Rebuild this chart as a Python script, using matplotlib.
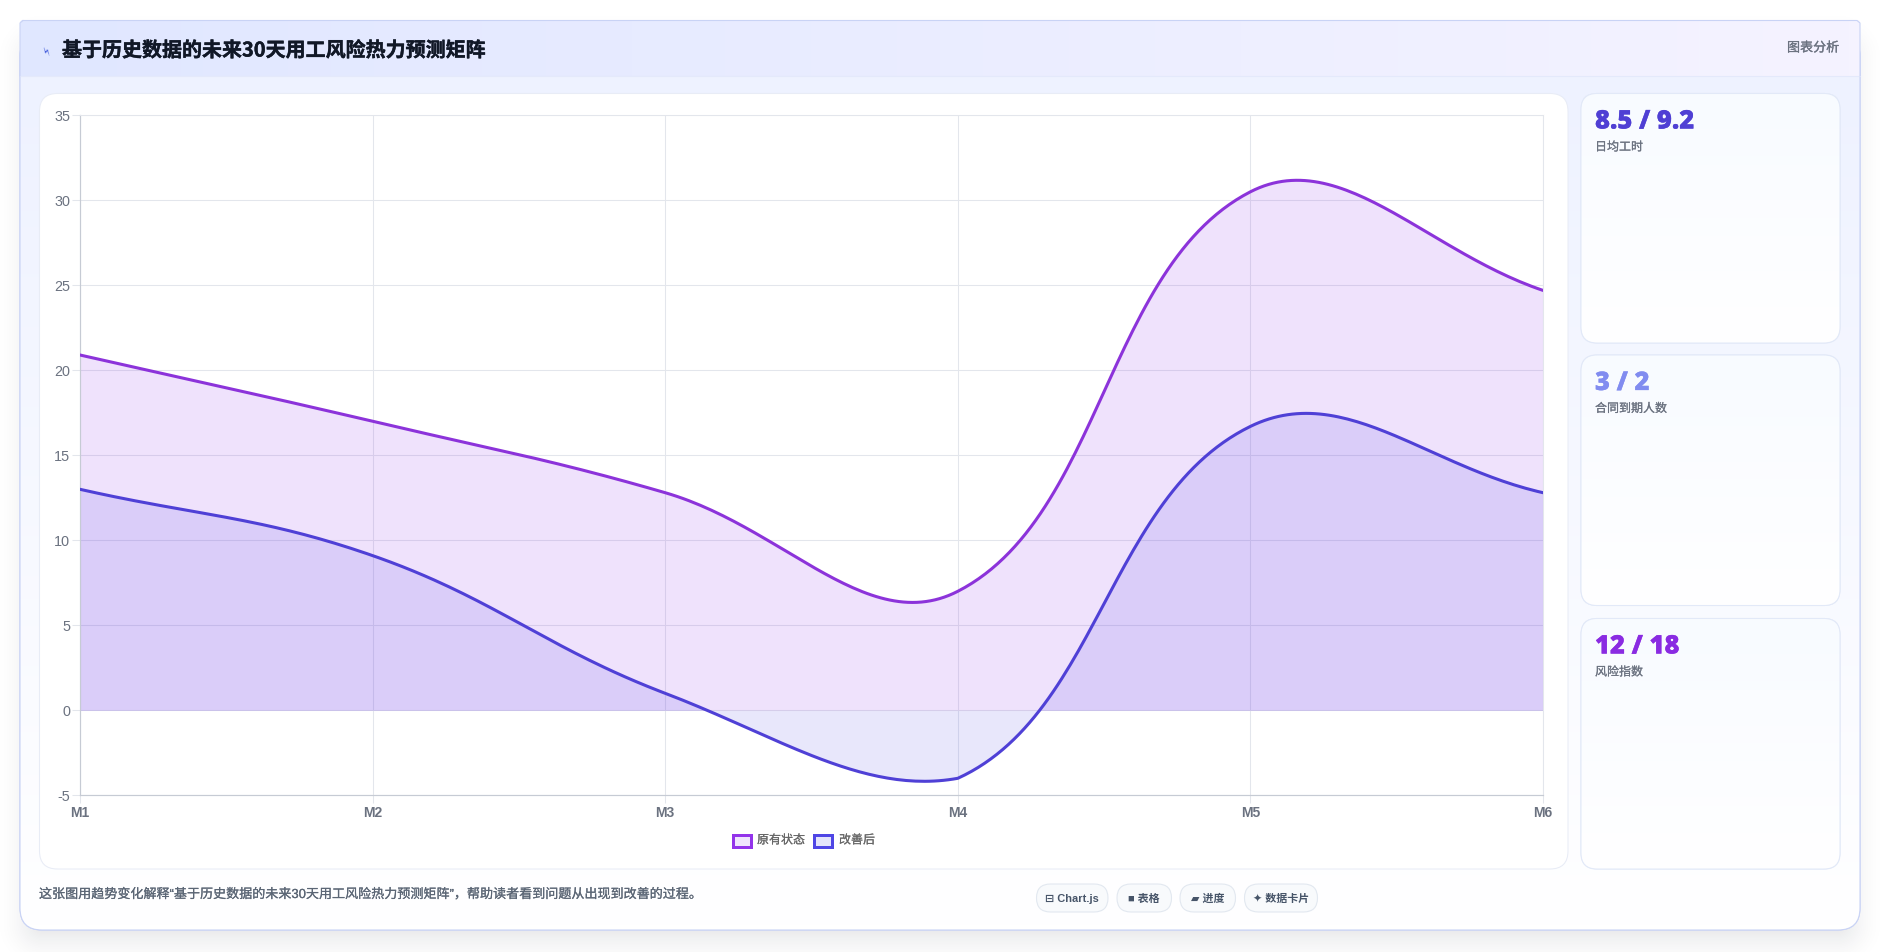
import numpy as np
import matplotlib
matplotlib.use('Agg')
import matplotlib.pyplot as plt
import matplotlib.patheffects as pe
from matplotlib.colors import LinearSegmentedColormap
from matplotlib.patches import FancyBboxPatch, Rectangle

WIDTH, HEIGHT = 1880, 952
CJK = ['Noto Sans CJK SC', 'DejaVu Sans']
MIXED = ['Liberation Sans', 'DejaVu Sans', 'Noto Sans CJK SC']
plt.rcParams['font.family'] = CJK

months = ['M1', 'M2', 'M3', 'M4', 'M5', 'M6']
before = [20.9, 17, 12.8, 7, 30.5, 24.7]
after = [13, 9.1, 1, -4, 16.7, 12.8]
y_ticks = [-5, 0, 5, 10, 15, 20, 25, 30, 35]

legend_labels = ['原有状态', '改善后']
stat_values = ['8.5 / 9.2', '3 / 2', '12 / 18']
stat_names = ['日均工时', '合同到期人数', '风险指数']
stat_colors = ['#4f3fd4', '#818cf0', '#8a2be2']
chip_labels = ['\u229f Chart.js', '\u25a0 表格', '\u25b0 进度', '\u2726 数据卡片']
chip_edges = [(1036.5, 1108), (1117, 1171.5), (1180, 1235.5), (1244.5, 1317.5)]
title = '基于历史数据的未来30天用工风险热力预测矩阵'
note = '这张图用趋势变化解释“基于历史数据的未来30天用工风险热力预测矩阵”，帮助读者看到问题从出现到改善的过程。'

PURPLE = '#9333ea'
INDIGO = '#4f46e5'
PURPLE_LINE = '#8c33da'
INDIGO_LINE = '#4f40d6'

LEFT, RIGHT, TOP, BOTTOM = 80, 1543, 115.3, 795.3
PX_X = (RIGHT - LEFT) / (len(months) - 1)
PX_Y = (BOTTOM - TOP) / (y_ticks[-1] - y_ticks[0])


def thick(width=0.3, color=None):
    # thin outline to bring regular text up to a medium stroke weight
    return [pe.withStroke(linewidth=width, foreground=color)]


def rounded_dist(xx, yy, x0, y0, x1, y1, r):
    # signed distance to a rounded box, negative inside
    cx, cy = (x0 + x1) / 2, (y0 + y1) / 2
    dx = np.abs(xx - cx) - (x1 - x0) / 2 + r
    dy = np.abs(yy - cy) - (y1 - y0) / 2 + r
    return np.hypot(np.maximum(dx, 0), np.maximum(dy, 0)) + np.minimum(np.maximum(dx, dy), 0) - r


def box(ax, x0, y0, x1, y1, r, fc, ec, lw=0.8, z=2):
    patch = FancyBboxPatch((x0 + r, y0 + r), x1 - x0 - 2 * r, y1 - y0 - 2 * r,
                           boxstyle=f'round,pad={r},rounding_size={r}',
                           facecolor=fc, edgecolor=ec, linewidth=lw, zorder=z)
    ax.add_patch(patch)
    return patch


def gradient(ax, extent, c0, c1, clip, horizontal=False, z=2.1):
    cmap = LinearSegmentedColormap.from_list('g', [c0, c1])
    ramp = np.linspace(0, 1, 256)
    data = ramp[None, :] if horizontal else ramp[:, None]
    im = ax.imshow(data, extent=extent, cmap=cmap, aspect='auto', zorder=z, interpolation='bilinear', origin='lower')
    if clip is not None:
        im.set_clip_path(clip)
    ax.set_xlim(0, WIDTH)
    ax.set_ylim(HEIGHT, 0)
    return im


def control(xs, ys, i, tension):
    # Chart.js style control points, capped to the plot area
    prev = max(i - 1, 0)
    nxt = min(i + 1, len(xs) - 1)
    d01 = np.hypot((xs[i] - xs[prev]) * PX_X, (ys[i] - ys[prev]) * PX_Y)
    d12 = np.hypot((xs[nxt] - xs[i]) * PX_X, (ys[nxt] - ys[i]) * PX_Y)
    s01 = d01 / (d01 + d12)
    s12 = d12 / (d01 + d12)
    fa, fb = tension * s01, tension * s12
    dx, dy = xs[nxt] - xs[prev], ys[nxt] - ys[prev]
    lo = np.array([0, y_ticks[0]])
    hi = np.array([xs[-1], y_ticks[-1]])
    cp_in = np.clip([xs[i] - fa * dx, ys[i] - fa * dy], lo, hi)
    cp_out = np.clip([xs[i] + fb * dx, ys[i] + fb * dy], lo, hi)
    return cp_in, cp_out


def spline(values, tension=0.4, steps=60):
    xs = np.arange(len(values), dtype=float)
    ys = np.asarray(values, dtype=float)
    out_x, out_y = [], []
    for i in range(len(xs) - 1):
        cp1 = control(xs, ys, i, tension)[1]
        cp2 = control(xs, ys, i + 1, tension)[0]
        t = np.linspace(0, 1, steps)[:, None]
        p0, p3 = np.array([xs[i], ys[i]]), np.array([xs[i + 1], ys[i + 1]])
        pts = (1 - t) ** 3 * p0 + 3 * (1 - t) ** 2 * t * cp1 + 3 * (1 - t) * t ** 2 * cp2 + t ** 3 * p3
        out_x.append(pts[:, 0])
        out_y.append(pts[:, 1])
    return np.concatenate(out_x), np.concatenate(out_y)


fig = plt.figure(figsize=(WIDTH / 100, HEIGHT / 100), dpi=100, facecolor='white')
bg = fig.add_axes([0, 0, 1, 1])
bg.set_xlim(0, WIDTH)
bg.set_ylim(HEIGHT, 0)
bg.axis('off')

# soft drop shadow under the main card
yy, xx = np.mgrid[0:HEIGHT, 0:WIDTH] + 0.5
dist = rounded_dist(xx, yy - 16, 20, 20, 1860, 930, 22)
shadow = np.zeros((HEIGHT, WIDTH, 4))
shadow[..., :3] = 0.06, 0.09, 0.16
shadow[..., 3] = 0.15 * np.clip(1 - (dist + 30) / 60, 0, 1) ** 2
bg.imshow(shadow, extent=(0, WIDTH, HEIGHT, 0), aspect='auto', zorder=1, interpolation='nearest')
bg.set_xlim(0, WIDTH)
bg.set_ylim(HEIGHT, 0)

# main card body, its top corners sit under the header band
card = box(bg, 20, 34, 1860, 930, 22, '#ffffff', '#c9d3f5', 0.8)
gradient(bg, (20, 1860, 76, 930), '#eef2ff', '#ffffff', card)
box(bg, 20, 34, 1860, 930, 22, 'none', '#c9d3f5', 0.8, z=2.15)

# header band keeps nearly square top corners
head_clip = box(bg, 20, 20, 1860, 90, 3, 'none', 'none', 0, z=0)
gradient(bg, (20, 1860, 20, 76), '#e0e7ff', '#f5f3ff', head_clip, horizontal=True, z=2.2)
bg.plot([20, 1860], [76, 76], color='#e4e9fb', lw=0.8, zorder=2.3)
bg.plot([20, 20, 23], [76, 23, 20.5], color='#c9d3f5', lw=0.8, zorder=2.4)
bg.plot([23, 1857, 1860, 1860], [20.5, 20.5, 23, 76], color='#c9d3f5', lw=0.8, zorder=2.4)

bg.text(48, 51, '\u26a1', fontsize=8, color='#3550d8', ha='center', va='center', rotation=68, zorder=5,
        family=['DejaVu Sans'])
bg.text(62, 50, title, fontsize=14.4, fontweight='bold', color='#111827', ha='left', va='center', zorder=5,
        path_effects=thick(0.3, '#111827'))
bg.text(1839, 48, '图表分析', fontsize=9.4, color='#6b7280', ha='right', va='center', zorder=5,
        path_effects=thick(0.2, '#6b7280'))

# chart panel
box(bg, 39.5, 93.5, 1568, 869, 18, '#ffffff', '#e8ecf6', 0.75, z=3)

# stat cards on the right
card_tops = [93.5, 355, 618.5]
card_bottoms = [343, 605.5, 869]
for top, bottom, value, name, color in zip(card_tops, card_bottoms, stat_values, stat_names, stat_colors):
    panel = box(bg, 1581, top, 1840, bottom, 16, '#ffffff', '#e2e9f8', 0.75, z=3)
    gradient(bg, (1581, 1840, top, bottom), '#f8fbff', '#ffffff', panel, z=3.1)
    box(bg, 1581, top, 1840, bottom, 16, 'none', '#e2e9f8', 0.75, z=3.2)
    bg.text(1595, top + 28, value, fontsize=18.4, fontweight='black', color=color, ha='left', va='center',
            family=['Open Sans', 'DejaVu Sans'], zorder=5, path_effects=thick(0.2, color))
    bg.text(1595, top + 53.5, name, fontsize=8.64, color='#6b7280', ha='left', va='center', zorder=5,
            path_effects=thick(0.15, '#6b7280'))

# footer note and chips
bg.text(39, 894.5, note, fontsize=9.4, color='#5b6675', ha='left', va='center', zorder=5,
        family=MIXED, path_effects=thick(0.15, '#5b6675'))
for (x0, x1), label in zip(chip_edges, chip_labels):
    box(bg, x0, 884, x1, 912, 14, '#f8fafc', '#e2e8f0', 0.8, z=4)
    bg.text((x0 + x1) / 2, 899, label, fontsize=7.92, fontweight='bold', color='#475569', ha='center', va='center',
            family=MIXED, zorder=5)

# line chart
ax = fig.add_axes([LEFT / WIDTH, 1 - BOTTOM / HEIGHT, (RIGHT - LEFT) / WIDTH, (BOTTOM - TOP) / HEIGHT])
ax.set_facecolor('none')
ax.set_xlim(0, len(months) - 1)
ax.set_ylim(y_ticks[0], y_ticks[-1])
ax.set_zorder(4)

bx, by = spline(before)
ax.fill_between(bx, by, 0, color=PURPLE, alpha=0.14, linewidth=0, zorder=2)
ax.plot(bx, by, color=PURPLE_LINE, lw=2.2, zorder=4, solid_capstyle='round')
ix, iy = spline(after)
ax.fill_between(ix, iy, 0, color=INDIGO, alpha=0.13, linewidth=0, zorder=2.5)
ax.plot(ix, iy, color=INDIGO_LINE, lw=2.2, zorder=4, solid_capstyle='round')

ax.set_xticks(range(len(months)))
ax.set_xticklabels(months, fontsize=10, fontweight='bold', color='#6b7280', family=['Liberation Sans'])
ax.set_yticks(y_ticks)
ax.set_yticklabels([str(v) for v in y_ticks], fontsize=10.4, color='#6b7280', family=['Liberation Sans'])
ax.grid(True, color='#e3e6ec', lw=0.75, zorder=0)
ax.set_axisbelow(True)
ax.tick_params(axis='x', length=5.76, width=0.75, color='#e3e6ec', pad=2)
ax.tick_params(axis='y', length=5.76, width=0.75, color='#e3e6ec', pad=1.4)
for side in ('top', 'right'):
    ax.spines[side].set_color('#e3e6ec')
    ax.spines[side].set_linewidth(0.75)
for side in ('left', 'bottom'):
    ax.spines[side].set_color('#c6cbd4')
    ax.spines[side].set_linewidth(0.85)

# legend swatches drawn by hand to keep the thick outline
swatches = [(732.5, 750.5, PURPLE, '#f0e4fd', 757), (814, 832, INDIGO, '#e4e4fb', 839)]
for (x0, x1, ec, fc, tx), label in zip(swatches, legend_labels):
    bg.add_patch(Rectangle((x0, 834.5), x1 - x0, 12, facecolor=fc, edgecolor=ec, linewidth=2.16, zorder=5))
    bg.text(tx, 840, label, fontsize=8.64, color='#666666', ha='left', va='center', zorder=5,
            path_effects=thick(0.12, '#666666'))

fig.savefig('out.png', dpi=100, facecolor='white')
